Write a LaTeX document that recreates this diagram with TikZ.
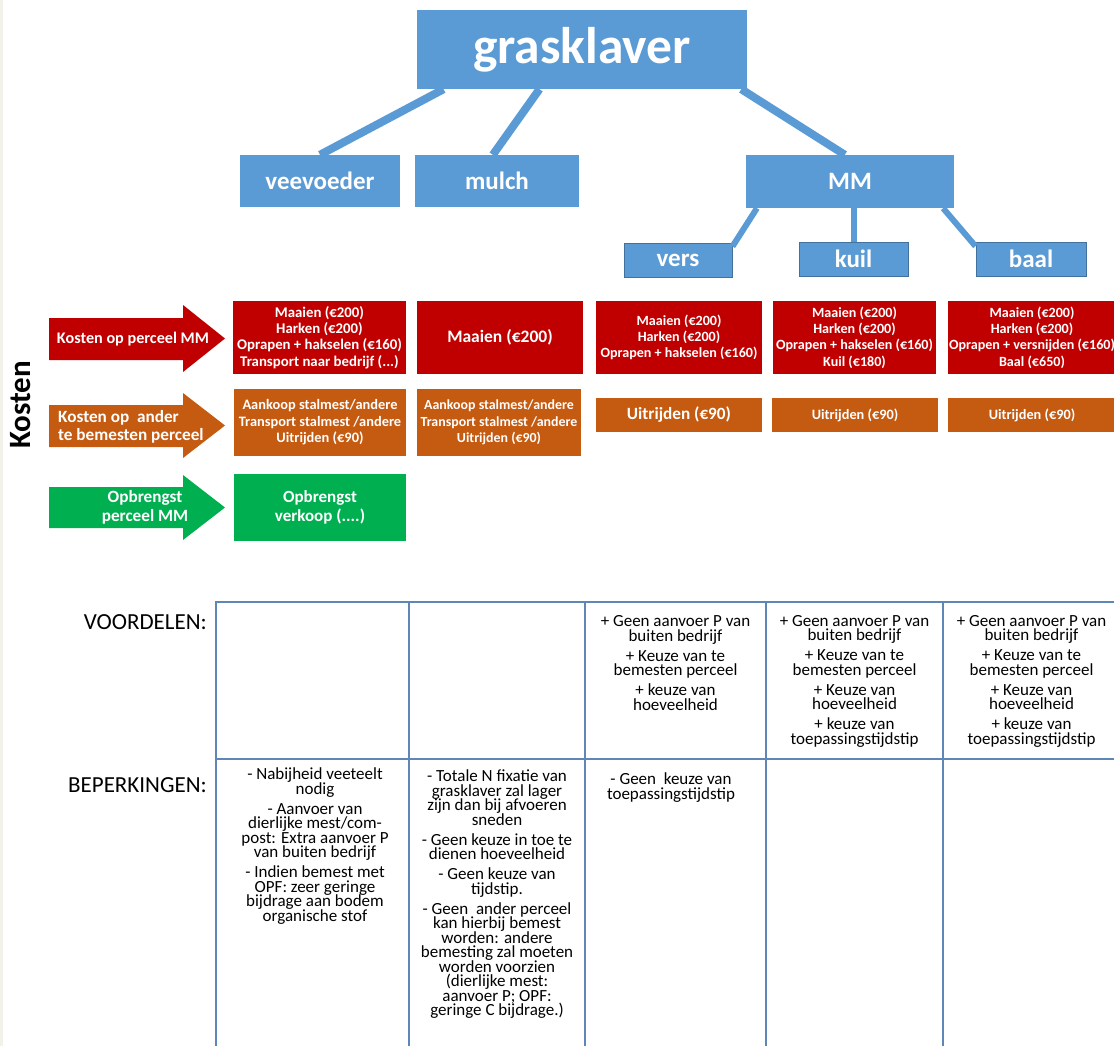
\documentclass[tikz,border=0pt]{standalone}
\usepackage{fontspec}
\setmainfont{Carlito}
\lineskiplimit=-50pt

\definecolor{blauw}{HTML}{5B9BD5}
\definecolor{blauwrand}{HTML}{41719C}
\definecolor{rood}{HTML}{C00000}
\definecolor{oranje}{HTML}{C55A11}
\definecolor{groen}{HTML}{00B050}
\definecolor{lijn}{HTML}{5F87B6}
\definecolor{rand}{HTML}{F2F2EA}

\tikzset{
  blok/.style={fill=blauw, text=white, inner sep=0pt, font=\bfseries\fontsize{25}{28}\selectfont},
  subblok/.style={blok, draw=blauwrand, line width=1pt},
  tak/.style={draw=blauw, line width=8pt},
  subtak/.style={draw=blauw, line width=6pt},
  vak/.style={text=white, inner sep=0pt, align=center, font=\bfseries\fontsize{14.1}{16.3}\selectfont},
  groot/.style={font=\bfseries\fontsize{14.8}{16.3}\selectfont},
  roodvak/.style={vak, fill=rood},
  oranjevak/.style={vak, fill=oranje},
  groenvak/.style={vak, fill=groen},
  pijltekst/.style={text=white, inner sep=0pt, font=\bfseries\fontsize{16.2}{17.5}\selectfont},
  tabel/.style={draw=lijn, line width=1.5pt},
  kop/.style={inner sep=0pt, font=\fontsize{23}{25}\selectfont},
  cel/.style={inner sep=0pt, anchor=north, align=center,
    font=\fontsize{17}{14.5}\selectfont}
}

\begin{document}
\begin{tikzpicture}[x=1pt, y=-1pt]
\useasboundingbox (0,0) rectangle (1114,1046);
%rand
\fill[rand] (0,0) rectangle (1114,1046);
\fill[white, rounded corners=14pt] (3,-30) rectangle (1150,1080);

%boom
\node[blok, minimum width=330, minimum height=79, font=\bfseries\fontsize{51.5}{54}\selectfont] (gras) at (582,49.5) {grasklaver};
\node[blok, minimum width=160, minimum height=52] (vee) at (320,181) {veevoeder};
\node[blok, minimum width=164, minimum height=52] (mulch) at (497,181) {mulch};
\node[blok, minimum width=208, minimum height=53] (mm) at (850,181.5) {MM};
\node[subblok, minimum width=108, minimum height=34] (vers) at (678,260) {vers};
\node[subblok, minimum width=109, minimum height=34] (kuil) at (853.5,259) {kuil};
\node[subblok, minimum width=110, minimum height=34] (baal) at (1031,259) {baal};

\draw[tak] (gras.196) -- (vee.north);
\draw[tak] (gras.223) -- (mulch.99);
\draw[tak] (gras.-14.5) -- (mm.101);
\draw[subtak] (mm.196) -- (vers.14);
\draw[subtak] (mm.south -| kuil.north) -- (kuil.north);
\draw[subtak] (mm.-16) -- (baal.167);

%kosten
\node[rotate=90, inner sep=0pt, font=\bfseries\fontsize{31}{31}\selectfont] (kosten) at (21,405) {Kosten};

%pijlen
\fill[rood] (49,318) -- (183,318) -- (183,305) -- (225,338.5) -- (183,372) -- (183,360) -- (49,360) -- cycle;
\node[pijltekst] (pijlmm) at (133,339) {Kosten op perceel MM};
\fill[oranje] (49,405) -- (183,405) -- (183,393) -- (225,425.5) -- (183,458) -- (183,447) -- (49,447) -- cycle;
\node[pijltekst, anchor=west, align=left, font=\bfseries\fontsize{17.2}{17.5}\selectfont] (pijlander) at (58,427) {Kosten op\ \ ander\\te bemesten perceel};
\fill[groen] (49,487) -- (183,487) -- (183,475) -- (225,507.5) -- (183,540) -- (183,528) -- (49,528) -- cycle;
\node[pijltekst, align=center, font=\bfseries\fontsize{17.2}{18.5}\selectfont] (pijlopbr) at (145,507.5) {Opbrengst\\perceel MM};

%vakken
\node[roodvak, groot, minimum width=173, minimum height=73] (r1) at (319.5,337.5) {Maaien (€200)\\Harken (€200)\\Oprapen + hakselen (€160)\\Transport naar bedrijf (...)};
\node[roodvak, minimum width=166, minimum height=73, font=\bfseries\fontsize{17.5}{18}\selectfont] (r2) at (500,337.5) {Maaien (€200)};
\node[roodvak, minimum width=166, minimum height=73] (r3) at (679,337.5) {Maaien (€200)\\Harken (€200)\\Oprapen + hakselen (€160)};
\node[roodvak, minimum width=163, minimum height=73] (r4) at (854.5,337.5) {Maaien (€200)\\Harken (€200)\\Oprapen + hakselen (€160)\\Kuil (€180)};
\node[roodvak, minimum width=168, minimum height=73] (r5) at (1032,337.5) {Maaien (€200)\\Harken (€200)\\Oprapen + versnijden (€160)\\Baal (€650)};

\node[oranjevak, minimum width=172, minimum height=67, font=\bfseries\fontsize{14.4}{16.5}\selectfont] (o1) at (320,422.5) {Aankoop stalmest/andere\\Transport stalmest /andere\\Uitrijden (€90)};
\node[oranjevak, minimum width=164, minimum height=67, font=\bfseries\fontsize{13.9}{16.5}\selectfont] (o2) at (499,422.5) {Aankoop stalmest/andere\\Transport stalmest /andere\\Uitrijden (€90)};
\node[oranjevak, minimum width=166, minimum height=34, font=\bfseries\fontsize{17.2}{18}\selectfont] (o3) at (679,415) {Uitrijden (€90)};
\node[oranjevak, minimum width=166, minimum height=34, font=\bfseries\fontsize{14.3}{16}\selectfont] (o4) at (855,415) {Uitrijden (€90)};
\node[oranjevak, minimum width=168, minimum height=34, font=\bfseries\fontsize{14.3}{16}\selectfont] (o5) at (1032,415) {Uitrijden (€90)};

\node[groenvak, minimum width=172, minimum height=67, font=\bfseries\fontsize{17}{18.5}\selectfont] (g1) at (320,507.5) {Opbrengst\\verkoop (....)};

%tabel
\draw[tabel] (216,1060) -- (216,602) -- (1130,602);
\draw[tabel] (216,759) -- (1130,759);
\foreach \x in {409,585,766,943}
  \draw[tabel] (\x,602) -- (\x,1060);

\node[kop, anchor=east] (voordelen) at (207,622) {VOORDELEN:};
\node[kop, anchor=east] (beperkingen) at (207,785) {BEPERKINGEN:};

\node[cel] (v3) at (675.5,615.5) {+ Geen aanvoer P van\\buiten bedrijf\\[5.5pt]+ Keuze van te\\bemesten perceel\\[5.5pt]+ keuze van\\hoeveelheid};
\node[cel] (v4) at (854.5,615) {+ Geen aanvoer P van\\buiten bedrijf\\[5.5pt]+ Keuze van te\\bemesten perceel\\[5.5pt]+ Keuze van\\hoeveelheid\\[5.5pt]+ keuze van\\toepassingstijdstip};
\node[cel] (v5) at (1031.5,615) {+ Geen aanvoer P van\\buiten bedrijf\\[5.5pt]+ Keuze van te\\bemesten perceel\\[5.5pt]+ Keuze van\\hoeveelheid\\[5.5pt]+ keuze van\\toepassingstijdstip};

\node[cel] (b1) at (315,767.5) {- Nabijheid veeteelt\\nodig\\[5.5pt]- Aanvoer van\\dierlijke mest/com-\\post: Extra aanvoer P\\van buiten bedrijf\\[5.5pt]- Indien bemest met\\OPF: zeer geringe\\bijdrage aan bodem\\organische stof};
\node[cel] (b2) at (497,769.5) {- Totale N fixatie van\\grasklaver zal lager\\zijn dan bij afvoeren\\sneden\\[5.5pt]- Geen keuze in toe te\\dienen hoeveelheid\\[5.5pt]- Geen keuze van\\tijdstip.\\[5.5pt]- Geen\ \ ander perceel\\kan hierbij bemest\\worden: andere\\bemesting zal moeten\\worden voorzien\\(dierlijke mest:\\aanvoer P; OPF:\\geringe C bijdrage.)};
\node[cel] (b3) at (671,772.5) {- Geen\ \ keuze van\\toepassingstijdstip};

\end{tikzpicture}
\end{document}
